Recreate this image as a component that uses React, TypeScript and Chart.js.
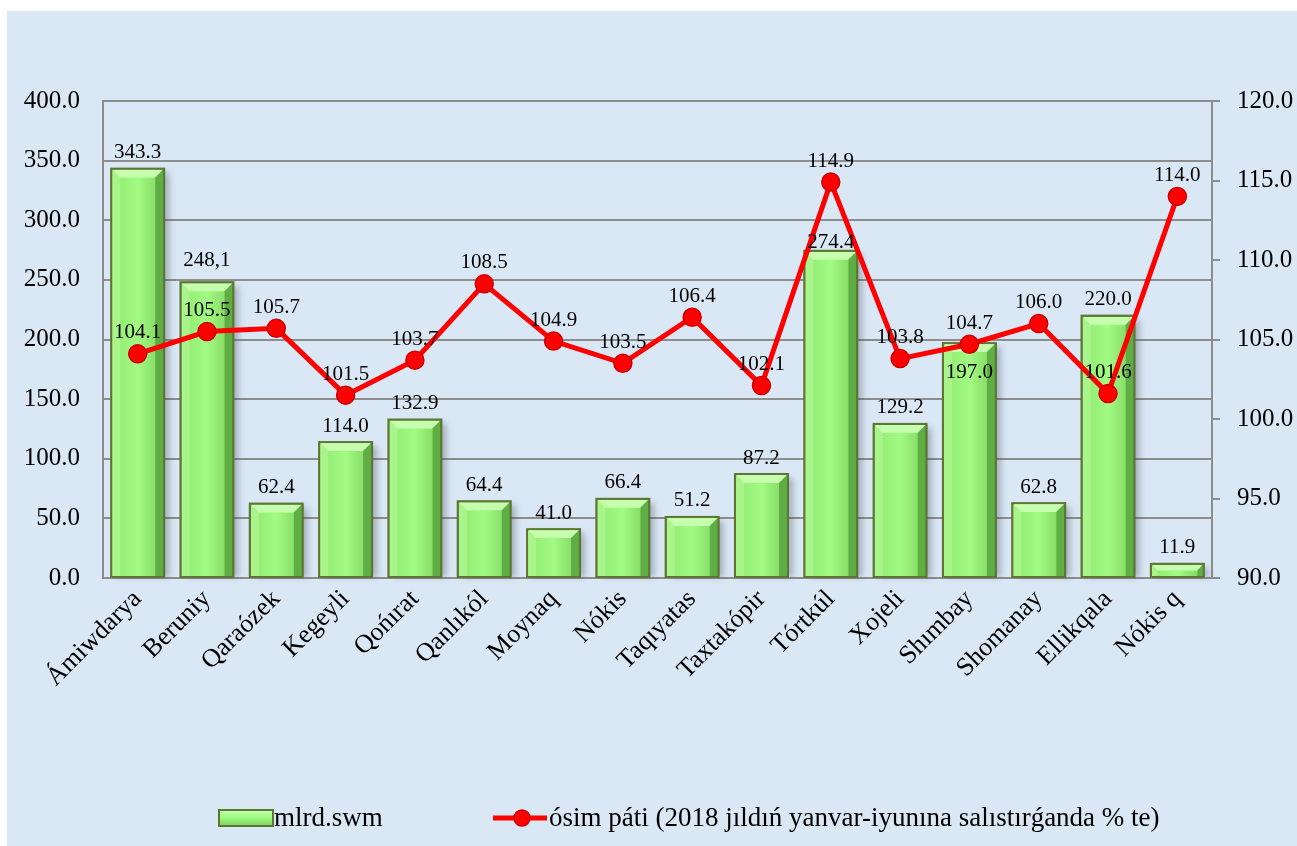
import React, { useEffect, useRef } from "react";
import { Chart, registerables } from "chart.js";

Chart.register(...registerables);

const categories = [
  "Ámiwdarya", "Beruniy", "Qaraózek", "Kegeyli", "Qońırat", "Qanlıkól", "Moynaq", "Nókis",
  "Taqıyatas", "Taxtakópir", "Tórtkúl", "Xojeli", "Shımbay", "Shomanay", "Ellikqala", "Nókis q",
];

const volumeValues = [343.3, 248.1, 62.4, 114.0, 132.9, 64.4, 41.0, 66.4, 51.2, 87.2, 274.4, 129.2, 197.0, 62.8, 220.0, 11.9];
const volumeLabels = ["343.3", "248,1", "62.4", "114.0", "132.9", "64.4", "41.0", "66.4", "51.2", "87.2", "274.4", "129.2", "197.0", "62.8", "220.0", "11.9"];

const growthValues = [104.1, 105.5, 105.7, 101.5, 103.7, 108.5, 104.9, 103.5, 106.4, 102.1, 114.9, 103.8, 104.7, 106.0, 101.6, 114.0];

const seriesNames = ["mlrd.swm", "ósim páti (2018 jıldıń yanvar-iyunına salıstırǵanda % te)"];

// per-bar label vertical nudges (styling only)
const barLabelShift: Record<number, number> = { 1: -6, 10: 8, 12: 45 };

const FONT = "'Liberation Serif', 'Times New Roman', serif";

export default function App() {
  const ref = useRef<HTMLCanvasElement | null>(null);

  useEffect(() => {
    const canvas = ref.current;
    if (!canvas) return;

    const bgPlugin = {
      id: "bg",
      beforeDraw(chart: any) {
        const { ctx, width, height } = chart;
        ctx.save();
        ctx.fillStyle = "#dae7f5";
        ctx.fillRect(0, 0, width, height);
        ctx.restore();
      },
    };

    const bevelPlugin = {
      id: "bevel",
      beforeDatasetDraw(chart: any, args: any) {
        if (args.index !== 0) return;
        const ctx = chart.ctx;
        ctx.save();
        ctx.fillStyle = "rgba(40,50,60,0.3)";
        ctx.filter = "blur(3px)";
        args.meta.data.forEach((el: any) => {
          const { x, y, base, width } = el.getProps(["x", "y", "base", "width"], true);
          ctx.fillRect(x - width / 2 + 5, y + 4, width, base - y - 4);
        });
        ctx.restore();
      },
      afterDatasetDraw(chart: any, args: any) {
        if (args.index !== 0) return;
        const ctx = chart.ctx;
        ctx.save();
        args.meta.data.forEach((el: any) => {
          const { x, y, base, width } = el.getProps(["x", "y", "base", "width"], true);
          const L = x - width / 2 + 1, R = x + width / 2 - 1, T = y + 1, B = base - 1;
          const b = Math.min(8, (B - T) / 2);
          const g = ctx.createLinearGradient(L, 0, R, 0);
          g.addColorStop(0, "#8fe86f");
          g.addColorStop(0.5, "#a2fb82");
          g.addColorStop(1, "#7ed25e");
          ctx.fillStyle = g;
          ctx.fillRect(L + b, T + b, R - L - 2 * b, B - T - b);
          ctx.fillStyle = "#c6ffae";
          ctx.beginPath();
          ctx.moveTo(L, T); ctx.lineTo(R, T); ctx.lineTo(R - b, T + b); ctx.lineTo(L + b, T + b); ctx.closePath();
          ctx.fill();
          ctx.fillStyle = "#aaf48c";
          ctx.beginPath();
          ctx.moveTo(L, T); ctx.lineTo(L + b, T + b); ctx.lineTo(L + b, B); ctx.lineTo(L, B); ctx.closePath();
          ctx.fill();
          ctx.fillStyle = "#5fae44";
          ctx.beginPath();
          ctx.moveTo(R, T); ctx.lineTo(R - b, T + b); ctx.lineTo(R - b, B); ctx.lineTo(R, B); ctx.closePath();
          ctx.fill();
          ctx.strokeStyle = "#5d7634";
          ctx.lineWidth = 2;
          ctx.strokeRect(x - width / 2, y, width, base - y);
        });
        ctx.restore();
      },
    };

    const labelPlugin = {
      id: "labels",
      afterDatasetsDraw(chart: any) {
        const ctx = chart.ctx;
        ctx.save();
        ctx.fillStyle = "#000";
        ctx.font = `21px ${FONT}`;
        ctx.textAlign = "center";
        ctx.textBaseline = "middle";
        chart.getDatasetMeta(0).data.forEach((el: any, i: number) => {
          const shift = barLabelShift[i] || 0;
          ctx.fillText(volumeLabels[i], el.x, el.y - 16 + shift);
        });
        chart.getDatasetMeta(1).data.forEach((el: any, i: number) => {
          ctx.fillText(growthValues[i].toFixed(1), el.x, el.y - 21);
        });
        ctx.restore();
      },
    };

    const legendPlugin = {
      id: "customLegend",
      afterDraw(chart: any) {
        const ctx = chart.ctx;
        ctx.save();
        const cy = 807;
        const bx = 212, bw = 54, bh = 16, by = cy - bh / 2;
        const g = ctx.createLinearGradient(0, by, 0, by + bh);
        g.addColorStop(0, "#c6ffae");
        g.addColorStop(0.5, "#9cf77c");
        g.addColorStop(1, "#7ed25e");
        ctx.fillStyle = g;
        ctx.fillRect(bx, by, bw, bh);
        ctx.strokeStyle = "#5d7634";
        ctx.lineWidth = 2;
        ctx.strokeRect(bx, by, bw, bh);
        ctx.fillStyle = "#000";
        ctx.font = `27px ${FONT}`;
        ctx.textAlign = "left";
        ctx.textBaseline = "middle";
        ctx.fillText(seriesNames[0], bx + bw + 1, cy + 1);
        ctx.strokeStyle = "#ff0000";
        ctx.lineWidth = 5;
        ctx.beginPath();
        ctx.moveTo(486, cy);
        ctx.lineTo(540, cy);
        ctx.stroke();
        ctx.fillStyle = "#ff0000";
        ctx.beginPath();
        ctx.arc(515, cy, 8, 0, Math.PI * 2);
        ctx.fill();
        ctx.strokeStyle = "#cc0000";
        ctx.lineWidth = 1.5;
        ctx.stroke();
        ctx.fillStyle = "#000";
        ctx.fillText(seriesNames[1], 542, cy + 1);
        ctx.restore();
      },
    };

    const grid = "#8d8d8d";

    const chart = new Chart(canvas, {
      type: "bar",
      data: {
        labels: categories,
        datasets: [
          {
            type: "bar",
            label: seriesNames[0],
            data: volumeValues,
            yAxisID: "y",
            backgroundColor: "#9cf77c",
            borderColor: "#5d7634",
            borderWidth: 2,
            barPercentage: 0.765,
            categoryPercentage: 1,
            order: 2,
          },
          {
            type: "line",
            label: seriesNames[1],
            data: growthValues,
            yAxisID: "y1",
            borderColor: "#ff0000",
            borderWidth: 5,
            pointRadius: 9,
            pointBackgroundColor: "#ff0000",
            pointBorderColor: "#cc0000",
            pointBorderWidth: 1.5,
            tension: 0,
            order: 1,
          },
        ],
      } as any,
      options: {
        responsive: false,
        animation: false,
        layout: { padding: { top: 90, left: 0, right: 0, bottom: 0 } },
        plugins: {
          legend: { display: false },
          tooltip: { enabled: false },
          title: { display: false },
        },
        scales: {
          x: {
            offset: true,
            grid: { display: false, drawTicks: false },
            border: { display: true, color: grid, width: 2 },
            ticks: {
              autoSkip: false,
              minRotation: 45,
              maxRotation: 45,
              padding: 6,
              color: "#000",
              font: { family: FONT, size: 26 },
            },
            afterFit: (s: any) => { s.height = 268; },
          },
          y: {
            position: "left",
            min: 0,
            max: 400,
            grid: { color: grid, lineWidth: 2, drawTicks: false },
            border: { display: true, color: grid, width: 2 },
            ticks: {
              stepSize: 50,
              padding: 23,
              color: "#000",
              font: { family: FONT, size: 25 },
              callback: (v: any) => Number(v).toFixed(1),
            },
            afterFit: (s: any) => { s.width = 96; },
          },
          y1: {
            position: "right",
            min: 90,
            max: 120,
            grid: { color: grid, lineWidth: 2, drawOnChartArea: false, drawTicks: true, tickLength: 8 },
            border: { display: true, color: grid, width: 2 },
            ticks: {
              stepSize: 5,
              padding: 17,
              color: "#000",
              font: { family: FONT, size: 25 },
              callback: (v: any) => Number(v).toFixed(1),
            },
            afterFit: (s: any) => { s.width = 85; },
          },
        },
      } as any,
      plugins: [bgPlugin, bevelPlugin, labelPlugin, legendPlugin],
    });

    return () => chart.destroy();
  }, []);

  return (
    <div style={{ position: "fixed", left: 0, top: 0, width: 1297, height: 846, background: "#fff", overflow: "hidden" }}>
      <canvas
        ref={ref}
        width={1290}
        height={835}
        style={{ position: "absolute", left: 7, top: 11, width: 1290, height: 835 }}
      />
    </div>
  );
}
